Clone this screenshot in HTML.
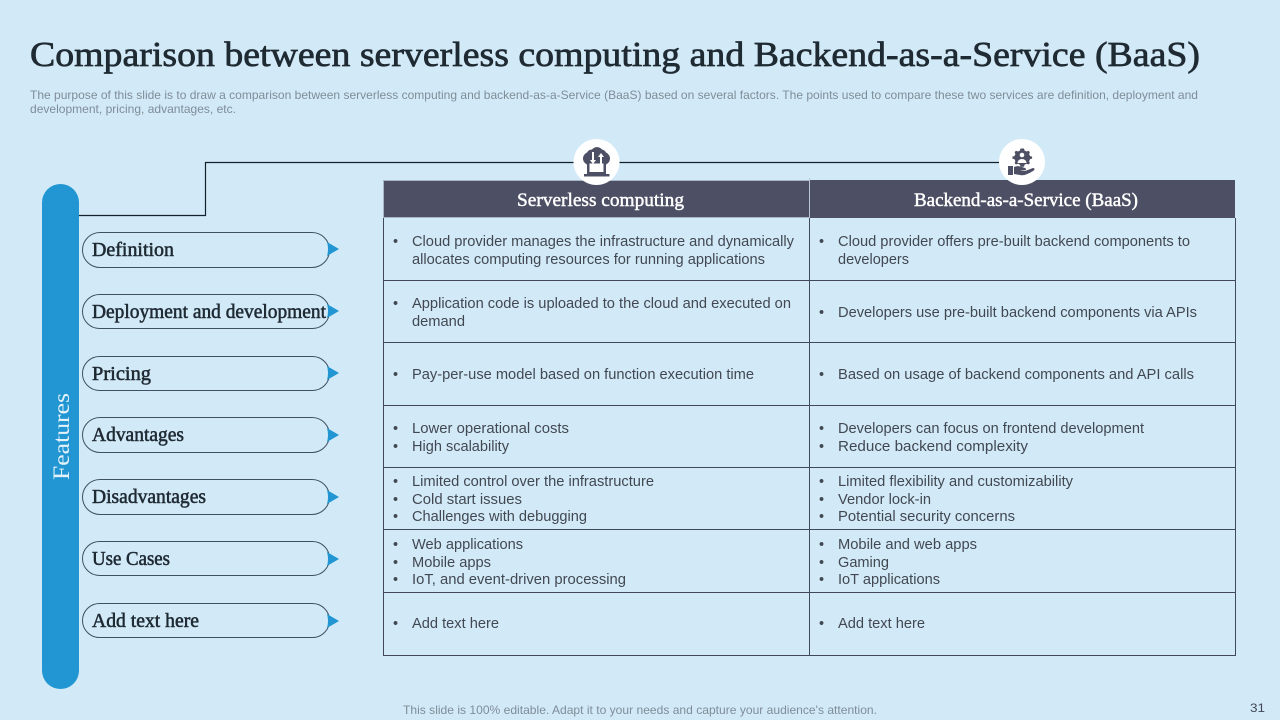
<!DOCTYPE html>
<html><head><meta charset="utf-8"><style>
html,body{margin:0;padding:0;width:1280px;height:720px;overflow:hidden;background:#d2eaf7}
svg{display:block}
.s{font-family:"Liberation Serif",serif}
.a{font-family:"Liberation Sans",sans-serif}
.b{font-size:14.4px;fill:#424852}
.l{font-family:"Liberation Serif",serif;font-size:20px;fill:#1f2a33;stroke:#1f2a33;stroke-width:.55}
.h{font-family:"Liberation Serif",serif;font-size:19px;fill:#fff;stroke:#fff;stroke-width:.45}
.g{font-size:12px;fill:#7f8c99}
</style></head><body>
<svg width="1280" height="720" viewBox="0 0 1280 720" xmlns="http://www.w3.org/2000/svg">
<rect width="1280" height="720" fill="#d2eaf7"/>
<text class="s" x="30" y="66" font-size="35" fill="#1f2a33" stroke="#1f2a33" stroke-width=".7" textLength="1170" lengthAdjust="spacingAndGlyphs">Comparison between serverless computing and Backend-as-a-Service (BaaS)</text>
<text class="a g" x="30" y="99" textLength="1168" lengthAdjust="spacingAndGlyphs">The purpose of this slide is to draw a comparison between serverless computing and backend-as-a-Service (BaaS) based on several factors. The points used to compare these two services are definition, deployment and</text>
<text class="a g" x="30" y="113" textLength="206" lengthAdjust="spacingAndGlyphs">development, pricing, advantages, etc.</text>

<path d="M79 215.500H205.500V162.500H1022" fill="none" stroke="#14222e" stroke-width="1.200"/>
<rect x="42" y="184" width="37" height="505" rx="18.500" fill="#2196d3"/>
<text class="s" transform="translate(69 480) rotate(-90)" font-size="23" fill="#e4f2fa" textLength="87" lengthAdjust="spacingAndGlyphs">Features</text>

<rect x="384" y="180" width="851" height="38" fill="#4d5064"/>
<path d="M384 180.500H809M383.500 180V218M384 217.500H809" stroke="#a9b4c4" stroke-width="1" fill="none"/>
<path d="M809.500 178V218" stroke="#b9c6d4" stroke-width="1"/>
<text class="h" x="517" y="206" textLength="167" lengthAdjust="spacingAndGlyphs">Serverless computing</text>
<text class="h" x="914" y="206" textLength="224" lengthAdjust="spacingAndGlyphs">Backend-as-a-Service (BaaS)</text>

<g fill="none" stroke="#414858" stroke-width="1">
<path d="M383.500 218V655.500H1235.500V218"/>
<path d="M809.500 218V655.500"/>
<path d="M383 280.500H1236M383 342.500H1236M383 405.500H1236M383 467.500H1236M383 529.500H1236M383 592.500H1236"/>
</g>

<g fill="#fff">
<circle cx="596.500" cy="162" r="23"/>
<circle cx="1022" cy="162" r="23"/>
</g>
<g fill="#4d5064">
<path d="M589 165a6.500 6.500 0 0 1-2-12.500a6 6 0 0 1 5-3a6.500 6.500 0 0 1 10 0a6 6 0 0 1 4 3a6.500 6.500 0 0 1-2 12.500z"/>
<rect x="587" y="162" width="19" height="12"/>
<rect x="589.500" y="163.500" width="14" height="8.500" fill="#fff"/>
<rect x="584" y="174" width="25.500" height="2.500"/>
<path d="M593 152v8h-2l3 4 3-4h-2v-8z" fill="#fff" transform="translate(-1 0)"/>
<path d="M600 165v-8h-2l3-4 3 4h-2v8z" fill="#fff"/>
<path d="M1022 148.500l2 0 .5 2 2 1 2-.8 1.400 1.400-.8 2 1 2 2 .5v2l-2 .5-1 2 .8 2-1.400 1.400-2-.8-2 1-.5 2h-3.500l-.5-2-2-1-2 .8-1.400-1.400.8-2-1-2-2-.5v-2l2-.5 1-2-.8-2 1.400-1.400 2 .8 2-1 .5-2z"/>
<circle cx="1022" cy="155" r="2.300" fill="#fff"/>
<path d="M1017.500 163a4.500 4 0 0 1 9 0z" fill="#fff"/>
<rect x="1008" y="166" width="5" height="9"/>
<path d="M1014 167c5-2 7 0 11 1c2 1 1 3-2 2l-3 0l5 1l8-3c2 0 2 2 0 3c-5 3-9 5-13 4l-6-1z"/>
</g>

<!-- pills -->
<g fill="none" stroke="#3f5064" stroke-width="1">
<rect x="82.500" y="232.500" width="247" height="35" rx="17.500"/>
<rect x="82.500" y="294.500" width="247" height="34" rx="17"/>
<rect x="82.500" y="356.500" width="247" height="34" rx="17"/>
<rect x="82.500" y="417.500" width="247" height="35" rx="17.500"/>
<rect x="82.500" y="479.500" width="247" height="35" rx="17.500"/>
<rect x="82.500" y="541.500" width="247" height="34" rx="17"/>
<rect x="82.500" y="603.500" width="247" height="34" rx="17"/>
</g>
<g fill="#2196d3">
<path d="M327 242l12 7-12 7q2-7 0-14z"/>
<path d="M327 304l12 7-12 7q2-7 0-14z"/>
<path d="M327 366l12 7-12 7q2-7 0-14z"/>
<path d="M327 428l12 7-12 7q2-7 0-14z"/>
<path d="M327 490l12 7-12 7q2-7 0-14z"/>
<path d="M327 552l12 7-12 7q2-7 0-14z"/>
<path d="M327 614l12 7-12 7q2-7 0-14z"/>
</g>
<text class="l" x="92" y="256" textLength="82" lengthAdjust="spacingAndGlyphs">Definition</text>
<text class="l" x="92" y="318" textLength="234" lengthAdjust="spacingAndGlyphs">Deployment and development</text>
<text class="l" x="92" y="380" textLength="59" lengthAdjust="spacingAndGlyphs">Pricing</text>
<text class="l" x="92" y="441" textLength="92" lengthAdjust="spacingAndGlyphs">Advantages</text>
<text class="l" x="92" y="503" textLength="114" lengthAdjust="spacingAndGlyphs">Disadvantages</text>
<text class="l" x="92" y="565" textLength="78" lengthAdjust="spacingAndGlyphs">Use Cases</text>
<text class="l" x="92" y="627" textLength="107" lengthAdjust="spacingAndGlyphs">Add text here</text>

<g class="a b">
<g>
<text x="393" y="246">•</text><text x="412" y="246" textLength="382" lengthAdjust="spacingAndGlyphs">Cloud provider manages the infrastructure and dynamically</text>
<text x="412" y="264" textLength="353" lengthAdjust="spacingAndGlyphs">allocates computing resources for running applications</text>
<text x="393" y="308">•</text><text x="412" y="308" textLength="379" lengthAdjust="spacingAndGlyphs">Application code is uploaded to the cloud and executed on</text>
<text x="412" y="326" textLength="53" lengthAdjust="spacingAndGlyphs">demand</text>
<text x="393" y="379">•</text><text x="412" y="379" textLength="342" lengthAdjust="spacingAndGlyphs">Pay-per-use model based on function execution time</text>
<text x="393" y="433">•</text><text x="412" y="433" textLength="157" lengthAdjust="spacingAndGlyphs">Lower operational costs</text>
<text x="393" y="451">•</text><text x="412" y="451" textLength="97" lengthAdjust="spacingAndGlyphs">High scalability</text>
<text x="393" y="486">•</text><text x="412" y="486" textLength="242" lengthAdjust="spacingAndGlyphs">Limited control over the infrastructure</text>
<text x="393" y="504">•</text><text x="412" y="504" textLength="110" lengthAdjust="spacingAndGlyphs">Cold start issues</text>
<text x="393" y="521">•</text><text x="412" y="521" textLength="175" lengthAdjust="spacingAndGlyphs">Challenges with debugging</text>
<text x="393" y="549">•</text><text x="412" y="549" textLength="111" lengthAdjust="spacingAndGlyphs">Web applications</text>
<text x="393" y="567">•</text><text x="412" y="567" textLength="79" lengthAdjust="spacingAndGlyphs">Mobile apps</text>
<text x="393" y="584">•</text><text x="412" y="584" textLength="214" lengthAdjust="spacingAndGlyphs">IoT, and event-driven processing</text>
<text x="393" y="628">•</text><text x="412" y="628" textLength="87" lengthAdjust="spacingAndGlyphs">Add text here</text>
</g>
<g>
<text x="819" y="246">•</text><text x="838" y="246" textLength="352" lengthAdjust="spacingAndGlyphs">Cloud provider offers pre-built backend components to</text>
<text x="838" y="264" textLength="71" lengthAdjust="spacingAndGlyphs">developers</text>
<text x="819" y="317">•</text><text x="838" y="317" textLength="359" lengthAdjust="spacingAndGlyphs">Developers use pre-built backend components via APIs</text>
<text x="819" y="379">•</text><text x="838" y="379" textLength="356" lengthAdjust="spacingAndGlyphs">Based on usage of backend components and API calls</text>
<text x="819" y="433">•</text><text x="838" y="433" textLength="306" lengthAdjust="spacingAndGlyphs">Developers can focus on frontend development</text>
<text x="819" y="451">•</text><text x="838" y="451" textLength="190" lengthAdjust="spacingAndGlyphs">Reduce backend complexity</text>
<text x="819" y="486">•</text><text x="838" y="486" textLength="235" lengthAdjust="spacingAndGlyphs">Limited flexibility and customizability</text>
<text x="819" y="504">•</text><text x="838" y="504" textLength="93" lengthAdjust="spacingAndGlyphs">Vendor lock-in</text>
<text x="819" y="521">•</text><text x="838" y="521" textLength="177" lengthAdjust="spacingAndGlyphs">Potential security concerns</text>
<text x="819" y="549">•</text><text x="838" y="549" textLength="139" lengthAdjust="spacingAndGlyphs">Mobile and web apps</text>
<text x="819" y="567">•</text><text x="838" y="567" textLength="51" lengthAdjust="spacingAndGlyphs">Gaming</text>
<text x="819" y="584">•</text><text x="838" y="584" textLength="102" lengthAdjust="spacingAndGlyphs">IoT applications</text>
<text x="819" y="628">•</text><text x="838" y="628" textLength="87" lengthAdjust="spacingAndGlyphs">Add text here</text>
</g>
</g>

<text class="a g" x="403" y="714" textLength="474" lengthAdjust="spacingAndGlyphs">This slide is 100% editable. Adapt it to your needs and capture your audience's attention.</text>
<text class="a" x="1250" y="712" font-size="12" fill="#404756" textLength="15" lengthAdjust="spacingAndGlyphs">31</text>
</svg>
</body></html>
